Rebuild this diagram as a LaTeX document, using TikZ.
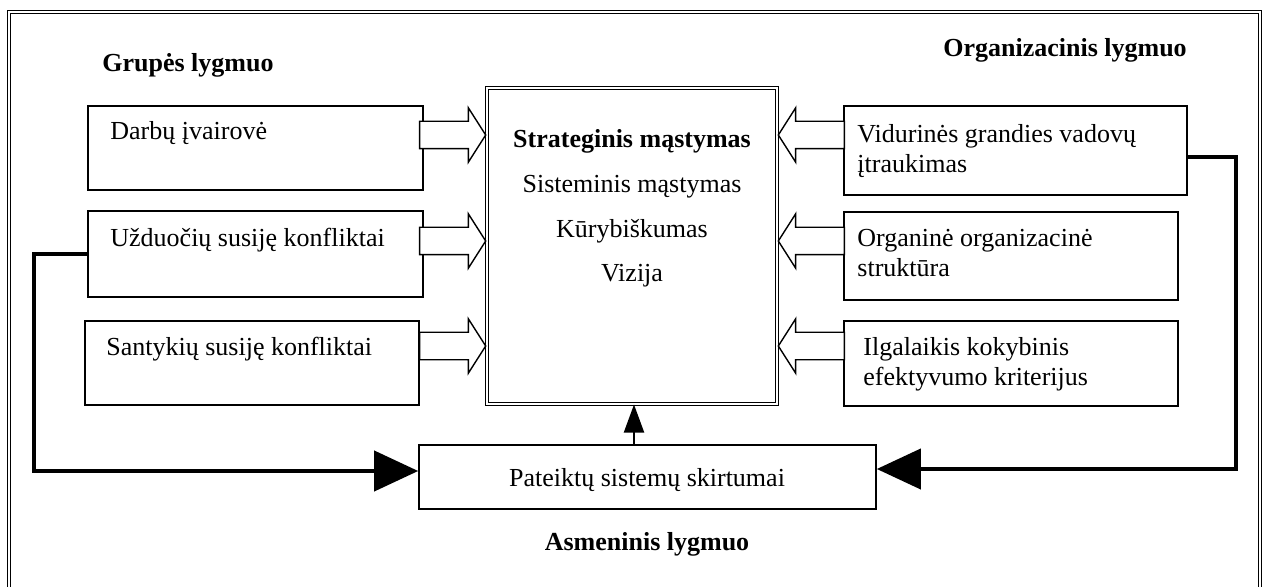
\documentclass[tikz,border=0pt]{standalone}
\usepackage{fontspec}
\setmainfont{Liberation Serif}
\usetikzlibrary{arrows.meta,positioning,calc,fit,shapes.arrows}
\tikzset{
  box/.style={draw,line width=0.8pt,inner sep=0pt},
  mainbox/.style={draw,line width=0.5pt,double,double distance=1pt,inner sep=0pt},
  outerframe/.style={line width=0.5pt,double,double distance=1pt},
  boxtext/.style={anchor=base west,inner sep=0pt,align=left,font=\fontsize{13}{15}\selectfont},
  maintext/.style={anchor=base,inner sep=0pt,font=\fontsize{13}{15}\selectfont},
  leveltitle/.style={anchor=base,inner sep=0pt,font=\fontsize{13}{15}\selectfont\bfseries},
  hollow/.style={single arrow,draw,line width=0.7pt,fill=white,inner xsep=0pt,inner ysep=6.5pt,
    text height=0pt,text depth=0pt,text width=0pt,
    minimum height=33pt,minimum width=26.5pt,single arrow head extend=6.75pt,
    single arrow tip angle=115,single arrow head indent=0pt},
  hollowleft/.style={hollow,shape border rotate=180},
  feedback/.style={line width=2pt,-{Triangle[length=22pt,width=20pt]}},
  push/.style={line width=1pt,-{Triangle[length=14pt,width=10pt]}},
}
\begin{document}
\begin{tikzpicture}[x=0.5pt,y=-0.5pt]
  \useasboundingbox (0,0) rectangle (1267,587);
  \draw[outerframe] (9,590) -- (9,12) -- (1259.5,12) -- (1259.5,590);

  % levels
  \node[leveltitle,anchor=base west] (grp) at (102,72) {Grupės lygmuo};
  \node[leveltitle] (org) at (1065,57) {Organizacinis lygmuo};
  \node[leveltitle] (asm) at (647,550) {Asmeninis lygmuo};

  % boxes
  \node[box,fit={(88,106) (423,190)}] (b1) {};
  \node[box,fit={(88,211) (423,297)}] (b2) {};
  \node[box,fit={(85,321) (419,405)}] (b3) {};
  \node[box,fit={(844,106) (1187,195)}] (r1) {};
  \node[box,fit={(844,212) (1178,300)}] (r2) {};
  \node[box,fit={(844,321) (1178,406)}] (r3) {};
  \node[mainbox,fit={(487,88) (777,404)}] (c) {};
  \node[box,fit={(419,445) (876,509)}] (d) {};

  \node[boxtext] at (110,140) {Darbų įvairovė};
  \node[boxtext] at (110,247) {Užduočių susiję konfliktai};
  \node[boxtext] at (106,355) {Santykių susiję konfliktai};
  \node[boxtext] at (857,173) {Vidurinės grandies vadovų\\įtraukimas};
  \node[boxtext] at (857,277) {Organinė organizacinė\\struktūra};
  \node[boxtext] at (863,385) {Ilgalaikis kokybinis\\efektyvumo kriterijus};

  \node[maintext,font=\fontsize{13}{15}\selectfont\bfseries] at (632,148) {Strateginis mąstymas};
  \node[maintext] at (632,193) {Sisteminis mąstymas};
  \node[maintext] at (632,238) {Kūrybiškumas};
  \node[maintext] at (632,282) {Vizija};
  \node[maintext] (dtxt) at (647,486) {Pateiktų sistemų skirtumai};

  % block arrows
  \coordinate (y1) at (0,135);
  \coordinate (y2) at (0,241);
  \coordinate (y3) at (0,346);
  \node[hollow,anchor=tip] (a1) at (c.west |- y1) {};
  \node[hollow,anchor=tip] (a2) at (c.west |- y2) {};
  \node[hollow,anchor=tip] (a3) at (c.west |- y3) {};
  \node[hollowleft,anchor=tip] (e1) at (c.east |- y1) {};
  \node[hollowleft,anchor=tip] (e2) at (c.east |- y2) {};
  \node[hollowleft,anchor=tip] (e3) at (c.east |- y3) {};

  % feedback lines
  \draw[feedback] (b2.west) -- ++(-53,0) |- ([yshift=3pt]d.west);
  \draw[feedback] ([yshift=-3.25pt]r1.east) -- ++(48,0) |- ([yshift=4pt]d.east);
  \draw[push] ([xshift=1pt]d.north -| c.south) -- ([xshift=1pt]c.south);
\end{tikzpicture}
\end{document}
